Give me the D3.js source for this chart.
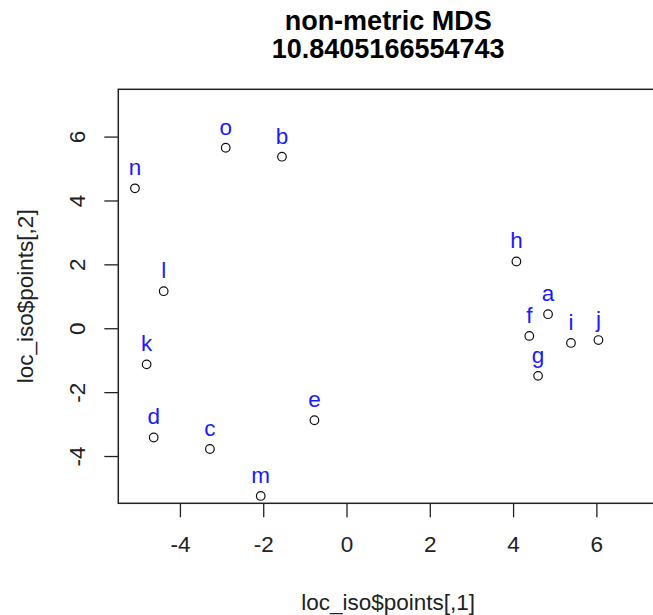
<!DOCTYPE html>
<html>
<head>
<meta charset="utf-8">
<script src="https://cdn.jsdelivr.net/npm/d3@7/dist/d3.min.js"></script>
<style>
  html, body { margin: 0; padding: 0; background: #fff; }
  svg { display: block; }
</style>
</head>
<body>
<svg id="chart" width="653" height="615"></svg>
<script>
const labels = ["a","b","c","d","e","f","g","h","i","j","k","l","m","n","o"];
const xVals = [4.84, -1.55, -3.28, -4.63, -0.77, 4.39, 4.60, 4.08, 5.39, 6.05, -4.80, -4.39, -2.06, -5.08, -2.90];
const yVals = [0.44, 5.37, -3.78, -3.42, -2.88, -0.24, -1.49, 2.09, -0.46, -0.37, -1.13, 1.16, -5.25, 4.38, 5.65];
const xTicks = [-4, -2, 0, 2, 4, 6];
const yTicks = [-4, -2, 0, 2, 4, 6];
const titleLines = ["non-metric MDS", "10.8405166554743"];
const xTitle = "loc_iso$points[,1]";
const yTitle = "loc_iso$points[,2]";

const svg = d3.select("#chart");
const font = "'Liberation Sans', Arial, sans-serif";
const L = 118.3, R = 658, T = 89.3, B = 503.3;

const x = d3.scaleLinear().domain([-5.48, 7.48]).range([L, R]);
const y = d3.scaleLinear().domain([-5.48, 7.48]).range([B, T]);

// axes
const xAxis = d3.axisBottom(x).tickValues(xTicks).tickSize(14).tickFormat(d3.format("d"));
const gx = svg.append("g").attr("transform", `translate(0,${B})`).call(xAxis);
gx.select(".domain").remove();
gx.selectAll(".tick line").attr("stroke", "#222").attr("stroke-width", 1.3);
gx.selectAll(".tick text").attr("font-family", font).attr("font-size", 22.5).attr("fill", "#222")
  .attr("dy", null).attr("y", 49).text(d => d < 0 ? "-" + Math.abs(d) : d);

const yAxis = d3.axisLeft(y).tickValues(yTicks).tickSize(14);
const gy = svg.append("g").attr("transform", `translate(${L},0)`).call(yAxis);
gy.select(".domain").remove();
gy.selectAll(".tick line").attr("stroke", "#222").attr("stroke-width", 1.3);
gy.selectAll(".tick text").attr("font-family", font).attr("font-size", 22.5).attr("fill", "#222")
  .attr("x", null).attr("dy", null).attr("text-anchor", "middle")
  .attr("transform", "translate(-33,0) rotate(-90)")
  .text(d => d < 0 ? "-" + Math.abs(d) : d);

// box
svg.append("rect").attr("x", L).attr("y", T).attr("width", R - L).attr("height", B - T)
  .attr("fill", "none").attr("stroke", "#222").attr("stroke-width", 1.5);

// points
const data = labels.map((l, i) => ({ l, x: xVals[i], y: yVals[i] }));
svg.append("g").selectAll("circle").data(data).join("circle")
  .attr("cx", d => x(d.x)).attr("cy", d => y(d.y)).attr("r", 4.3)
  .attr("fill", "none").attr("stroke", "#111").attr("stroke-width", 1.2);
svg.append("g").selectAll("text").data(data).join("text")
  .attr("x", d => x(d.x)).attr("y", d => y(d.y) - 13)
  .attr("text-anchor", "middle").attr("font-family", font).attr("font-size", 22.5)
  .attr("fill", "#1a1aff").text(d => d.l);

// titles
const cx = (L + R) / 2;
svg.append("text").attr("x", cx).attr("y", 30).attr("text-anchor", "middle")
  .attr("font-family", font).attr("font-weight", "bold").attr("font-size", 27).attr("fill", "#000")
  .text(titleLines[0]);
svg.append("text").attr("x", cx).attr("y", 58).attr("text-anchor", "middle")
  .attr("font-family", font).attr("font-weight", "bold").attr("font-size", 27).attr("fill", "#000")
  .text(titleLines[1]);
svg.append("text").attr("x", cx).attr("y", 610).attr("text-anchor", "middle")
  .attr("font-family", font).attr("font-size", 22.5).attr("fill", "#222").text(xTitle);
svg.append("text").attr("transform", `translate(33,${(T + B) / 2}) rotate(-90)`).attr("text-anchor", "middle")
  .attr("font-family", font).attr("font-size", 22.5).attr("fill", "#222").text(yTitle);
</script>
</body>
</html>
